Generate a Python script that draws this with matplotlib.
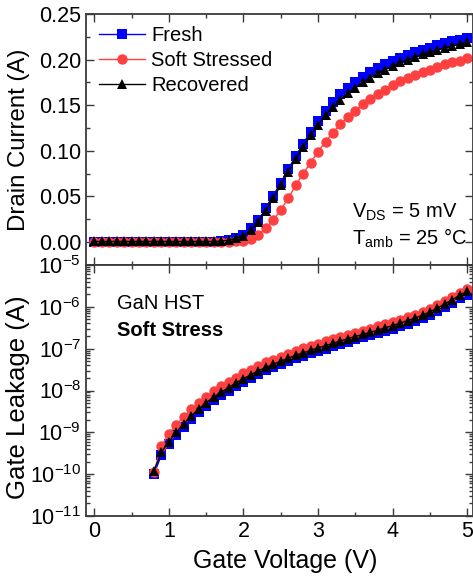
import numpy as np
import matplotlib
matplotlib.use("Agg")
import matplotlib.pyplot as plt
from matplotlib.ticker import MultipleLocator, LogLocator, NullFormatter, FormatStrFormatter

plt.rcParams['font.family'] = ['Liberation Sans', 'DejaVu Sans']
plt.rcParams['mathtext.default'] = 'regular'
plt.rcParams['axes.unicode_minus'] = False

# ---------------- data ----------------
gate_voltage = [round(0.1 * i, 1) for i in range(51)]

drain_fresh = [0.0005] * 17 + [
    0.001, 0.002, 0.004, 0.008, 0.015, 0.024, 0.037, 0.051, 0.065, 0.080,
    0.094, 0.108, 0.121, 0.133, 0.144, 0.154, 0.162, 0.169, 0.175, 0.181,
    0.186, 0.191, 0.195, 0.199, 0.202, 0.205, 0.208, 0.211, 0.213, 0.216,
    0.218, 0.220, 0.222, 0.224]
drain_stressed = [0.0003] * 17 + [
    0.0004, 0.0005, 0.0007, 0.001, 0.003, 0.008, 0.015, 0.024, 0.035, 0.048,
    0.062, 0.075, 0.087, 0.099, 0.110, 0.120, 0.129, 0.137, 0.144, 0.151,
    0.157, 0.162, 0.167, 0.172, 0.176, 0.180, 0.183, 0.186, 0.189, 0.192,
    0.195, 0.197, 0.199, 0.202]
drain_recovered = [0.0006] * 17 + [
    0.001, 0.002, 0.004, 0.007, 0.013, 0.022, 0.034, 0.048, 0.062, 0.077,
    0.091, 0.104, 0.117, 0.128, 0.139, 0.148, 0.156, 0.163, 0.169, 0.175,
    0.180, 0.185, 0.189, 0.193, 0.197, 0.200, 0.203, 0.206, 0.208, 0.211,
    0.213, 0.215, 0.217, 0.219]

leak_voltage = gate_voltage[8:]
# log10 of gate leakage (A)
leak_fresh_log = [
    -10.00, -9.55, -9.29, -9.07, -8.87, -8.68, -8.51, -8.36, -8.23, -8.11,
    -8.00, -7.89, -7.79, -7.69, -7.60, -7.52, -7.44, -7.37, -7.30, -7.23,
    -7.17, -7.11, -7.05, -7.00, -6.94, -6.89, -6.83, -6.78, -6.73, -6.68,
    -6.62, -6.57, -6.52, -6.46, -6.40, -6.34, -6.27, -6.19, -6.10, -6.00,
    -5.90, -5.80, -5.72]
leak_stressed_log = [
    -9.95, -9.33, -9.03, -8.82, -8.63, -8.45, -8.29, -8.15, -8.02, -7.90,
    -7.79, -7.69, -7.59, -7.50, -7.41, -7.33, -7.26, -7.19, -7.12, -7.05,
    -6.99, -6.93, -6.88, -6.82, -6.77, -6.72, -6.67, -6.62, -6.57, -6.52,
    -6.47, -6.41, -6.36, -6.31, -6.25, -6.19, -6.12, -6.05, -5.96, -5.87,
    -5.77, -5.67, -5.58]
leak_recovered_log = [
    -9.92, -9.48, -9.22, -9.00, -8.80, -8.61, -8.44, -8.29, -8.16, -8.04,
    -7.93, -7.82, -7.72, -7.62, -7.53, -7.45, -7.37, -7.30, -7.23, -7.16,
    -7.10, -7.04, -6.98, -6.93, -6.87, -6.82, -6.76, -6.71, -6.66, -6.61,
    -6.56, -6.50, -6.45, -6.39, -6.33, -6.27, -6.20, -6.12, -6.03, -5.93,
    -5.83, -5.72, -5.63]

labels = ['Fresh', 'Soft Stressed', 'Recovered']
colors = ['#0000FF', '#FF4040', '#000000']
markers = ['s', 'o', '^']
msizes = [6.5, 7.5, 7.5]

# ---------------- figure ----------------
W, H = 473, 580
fig = plt.figure(figsize=(W / 100, H / 100), dpi=100)

def frac(x0, y0, x1, y1):
    return [x0 / W, 1 - y1 / H, (x1 - x0) / W, (y1 - y0) / H]

ax1 = fig.add_axes(frac(86, 14, 472.5, 265))
ax2 = fig.add_axes(frac(86, 265, 472.5, 516))

frame_color = '#3a3a3a'
for ax in (ax1, ax2):
    for sp in ax.spines.values():
        sp.set_color(frame_color)
        sp.set_linewidth(1.3)
    ax.tick_params(which='both', direction='in', top=True, right=True,
                   color=frame_color, labelsize=15.5, width=1.0)
    ax.tick_params(which='major', length=6)
    ax.tick_params(which='minor', length=3)
    ax.set_xlim(-0.11, 5.07)
    ax.xaxis.set_major_locator(MultipleLocator(1))
    ax.xaxis.set_minor_locator(MultipleLocator(0.5))

drain = [drain_fresh, drain_stressed, drain_recovered]
for d, lab, c, m, ms in zip(drain, labels, colors, markers, msizes):
    ax1.plot(gate_voltage, d, color=c, marker=m, markersize=ms, lw=1.0,
             label=lab, markeredgewidth=0)
ax1.set_ylim(-0.0252, 0.25)
ax1.yaxis.set_major_locator(MultipleLocator(0.05))
ax1.yaxis.set_minor_locator(MultipleLocator(0.025))
ax1.yaxis.set_major_formatter(FormatStrFormatter('%.2f'))
ax1.tick_params(axis='x', labelbottom=False)
ax1.set_ylabel('Drain Current (A)', fontsize=17.3)
ax1.yaxis.set_label_coords(-0.145, 0.5)

ax1.legend(loc='upper left', frameon=False, fontsize=14.5,
           handlelength=2.3, handletextpad=0.3, labelspacing=0.3,
           borderaxespad=0.0, bbox_to_anchor=(0.012, 0.985))

ax1.text(0.688, 0.211, r'V$_{DS}$ = 5 mV', transform=ax1.transAxes,
         fontsize=14.5, va='center', ha='left')
ax1.text(0.688, 0.108, r'T$_{amb}$ = 25 °C', transform=ax1.transAxes,
         fontsize=14.5, va='center', ha='left')

leaks = [leak_fresh_log, leak_stressed_log, leak_recovered_log]
for i in range(3):
    vals = [10 ** v for v in leaks[i]]
    ax2.plot(leak_voltage, vals, color=colors[i], marker=markers[i],
             markersize=msizes[i], lw=1.0, markeredgewidth=0)
ax2.set_yscale('log')
ax2.set_ylim(1e-11, 1e-5)
ax2.yaxis.set_major_locator(LogLocator(base=10, numticks=20))
ax2.yaxis.set_minor_locator(LogLocator(base=10, subs=np.arange(2, 10), numticks=20))
ax2.yaxis.set_minor_formatter(NullFormatter())
ax2.set_ylabel('Gate Leakage (A)', fontsize=18.5)
ax2.yaxis.set_label_coords(-0.145, 0.474)
ax2.set_xlabel('Gate Voltage (V)', fontsize=18)
ax2.xaxis.set_label_coords(0.516, -0.13)
ax2.text(0.08, 0.845, 'GaN HST', transform=ax2.transAxes, fontsize=14.5,
         va='center', ha='left')
ax2.text(0.08, 0.74, 'Soft Stress', transform=ax2.transAxes, fontsize=14.5,
         fontweight='bold', va='center', ha='left')

fig.savefig('out.png', dpi=100)
